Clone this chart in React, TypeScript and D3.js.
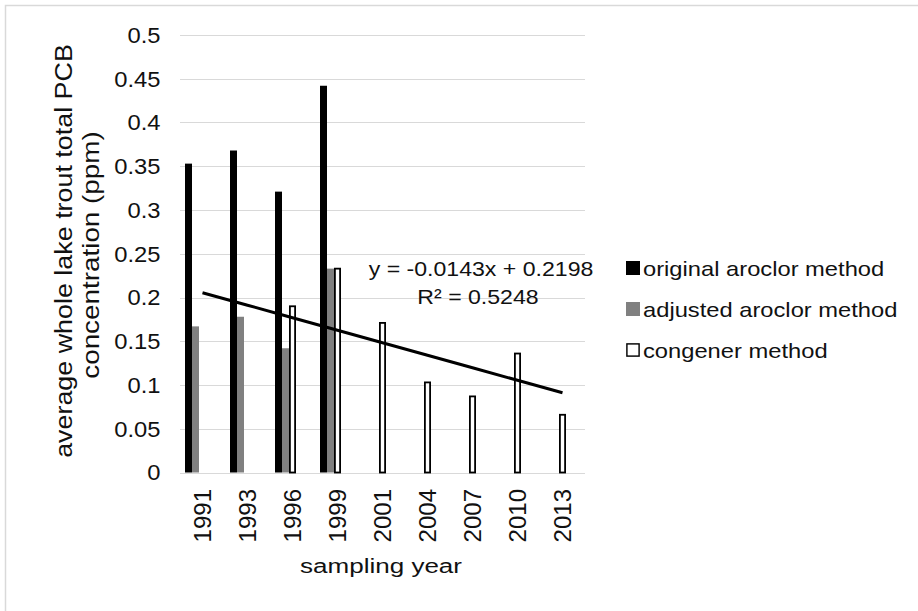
import React from "react";
import * as d3 from "d3";

// Sampling years (categories)
const YEARS = ["1991", "1993", "1996", "1999", "2001", "2004", "2007", "2010", "2013"];

// Average whole lake trout total PCB concentration (ppm) per method
const ORIGINAL_AROCLOR: (number | null)[] = [0.353, 0.368, 0.321, 0.442, null, null, null, null, null];
const ADJUSTED_AROCLOR: (number | null)[] = [0.167, 0.178, 0.142, 0.233, null, null, null, null, null];
const CONGENER: (number | null)[] = [null, null, 0.191, 0.234, 0.172, 0.104, 0.088, 0.137, 0.067];

const SERIES_NAMES = ["original aroclor method", "adjusted aroclor method", "congener method"];

// Linear trend fitted against the category index (1..9)
const TREND_SLOPE = -0.0143;
const TREND_INTERCEPT = 0.2198;
const TREND_R2 = 0.5248;

const Y_TICKS = [0, 0.05, 0.1, 0.15, 0.2, 0.25, 0.3, 0.35, 0.4, 0.45, 0.5];
const Y_TICK_LABELS = ["0", "0.05", "0.1", "0.15", "0.2", "0.25", "0.3", "0.35", "0.4", "0.45", "0.5"];

const FONT = "'Liberation Sans', Arial, Helvetica, sans-serif";
const GRID = "#d9d9d9";
const INK = "#111";

type LabelProps = {
  x: number;
  y: number;
  size: number;
  sx?: number;
  rotate?: number;
  anchor?: "start" | "middle" | "end";
  dy?: string;
  fill?: string;
  children: React.ReactNode;
};

// Text drawn with a slight widening along its reading direction
function Label({ x, y, size, sx = 1, rotate = 0, anchor = "start", dy, fill = INK, children }: LabelProps) {
  return (
    <text
      transform={`translate(${x},${y}) rotate(${rotate}) scale(${sx},1)`}
      fontSize={size}
      fontFamily={FONT}
      textAnchor={anchor}
      dy={dy}
      fill={fill}
    >
      {children}
    </text>
  );
}

export default function App() {
  const width = 918;
  const height = 611;
  const plot = { left: 180, right: 585, top: 35, bottom: 472.5 };

  const x0 = d3
    .scaleBand<string>()
    .domain(YEARS)
    .range([plot.left, plot.right])
    .paddingInner(2 / 9)
    .paddingOuter(1 / 9);

  // Each cluster takes the left three-fifths of its band
  const x1 = d3
    .scaleBand<string>()
    .domain(SERIES_NAMES)
    .range([0, (x0.bandwidth() * 3) / 5]);

  const y = d3.scaleLinear().domain([0, 0.5]).range([plot.bottom, plot.top]);

  const center = (yr: string) => (x0(yr) ?? 0) + x0.bandwidth() / 2;

  const seriesData = [
    { name: SERIES_NAMES[0], values: ORIGINAL_AROCLOR, fill: "#000000", stroke: "none", sw: 0 },
    { name: SERIES_NAMES[1], values: ADJUSTED_AROCLOR, fill: "#808080", stroke: "none", sw: 0 },
    { name: SERIES_NAMES[2], values: CONGENER, fill: "#ffffff", stroke: "#000000", sw: 1.8 },
  ];

  const trendPoints: [number, number][] = YEARS.map((yr, i) => [
    center(yr),
    y(TREND_SLOPE * (i + 1) + TREND_INTERCEPT),
  ]);
  const trendPath = d3.line()(trendPoints) ?? "";

  const legendX = 626;
  const legendY0 = 268;
  const legendStep = 41;
  const legendBox = 14;

  return (
    <svg
      width={width}
      height={height}
      style={{ position: "absolute", left: 0, top: 0, display: "block", background: "#fff" }}
    >
      {/* outer frame */}
      <rect x={5.5} y={5.5} width={1000} height={1000} fill="#fff" stroke={GRID} strokeWidth={1.5} />

      {/* horizontal gridlines */}
      {Y_TICKS.map((t) => (
        <line
          key={t}
          x1={plot.left}
          x2={plot.right}
          y1={Math.round(y(t)) + 0.5}
          y2={Math.round(y(t)) + 0.5}
          stroke={GRID}
          strokeWidth={1.2}
        />
      ))}

      {/* y tick labels */}
      {Y_TICKS.map((t, i) => (
        <Label key={t} x={160.5} y={y(t)} size={22} sx={1.08} anchor="end" dy="0.36em">
          {Y_TICK_LABELS[i]}
        </Label>
      ))}

      {/* bars */}
      {seriesData.map((s) =>
        s.values.map((v, i) => {
          if (v == null) return null;
          const bx = (x0(YEARS[i]) ?? 0) + (x1(s.name) ?? 0);
          const bw = x1.bandwidth();
          const inset = s.sw / 2;
          return (
            <rect
              key={`${s.name}-${i}`}
              x={bx + inset}
              y={y(v) + inset}
              width={bw - 2 * inset}
              height={y(0) - y(v) - inset}
              fill={s.fill}
              stroke={s.stroke}
              strokeWidth={s.sw}
            />
          );
        })
      )}

      {/* linear trendline */}
      <path d={trendPath} fill="none" stroke="#000" strokeWidth={3} />

      {/* trend equation */}
      <Label x={481} y={276} size={21} sx={1.1} anchor="middle">
        {`y = ${TREND_SLOPE}x + ${TREND_INTERCEPT}`}
      </Label>
      <Label x={478} y={303.5} size={21} sx={1.1} anchor="middle">
        {`R² = ${TREND_R2}`}
      </Label>

      {/* x tick labels */}
      {YEARS.map((yr) => (
        <Label key={yr} x={center(yr) + 8} y={489} size={24} rotate={-90} anchor="end">
          {yr}
        </Label>
      ))}

      {/* axis titles */}
      <Label x={381} y={573} size={21} sx={1.24} anchor="middle">
        sampling year
      </Label>
      <Label x={71.5} y={251} size={24} sx={1.12} rotate={-90} anchor="middle">
        average whole lake trout total PCB
      </Label>
      <Label x={98.5} y={255} size={24} sx={1.16} rotate={-90} anchor="middle">
        concentration (ppm)
      </Label>

      {/* legend */}
      {seriesData.map((s, i) => {
        const cy = legendY0 + i * legendStep;
        const inset = s.sw / 2;
        return (
          <g key={s.name}>
            <rect
              x={legendX + inset}
              y={cy - legendBox / 2 + inset}
              width={legendBox - 2 * inset}
              height={legendBox - 2 * inset}
              fill={s.fill}
              stroke={s.stroke}
              strokeWidth={s.sw * 0.8}
            />
            <Label x={legendX + legendBox + 3} y={cy} size={21} sx={1.13} dy="0.36em">
              {s.name}
            </Label>
          </g>
        );
      })}
    </svg>
  );
}
